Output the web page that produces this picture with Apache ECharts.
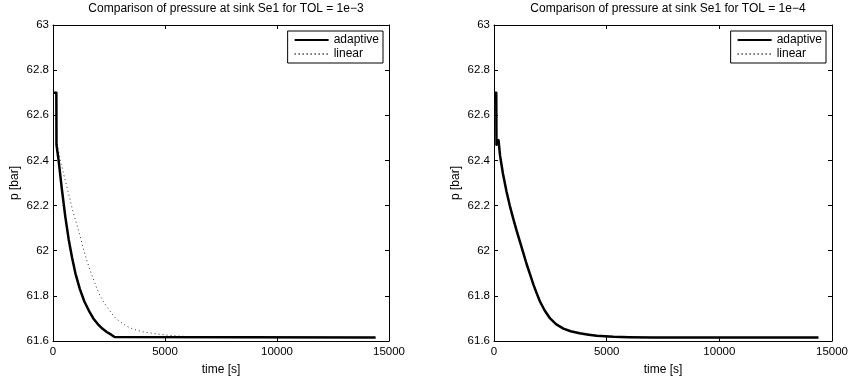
<!DOCTYPE html>
<html>
<head>
<meta charset="utf-8">
<script src="https://cdn.jsdelivr.net/npm/echarts@6/dist/echarts.min.js"></script>
<style>
  html, body { margin: 0; padding: 0; background: #fff; }
  #chart { width: 851px; height: 381px; }
</style>
</head>
<body>
<div id="chart"></div>
<script>
// TOL = 1e-3 (left)
const tAdaptive3 = [0, 150, 155, 250, 400, 550, 700, 850, 1000, 1200, 1400, 1600, 1800, 2000, 2200, 2400, 2600, 2750, 2800, 14400];
const pAdaptive3 = [62.70, 62.70, 62.47, 62.40, 62.27, 62.15, 62.05, 61.97, 61.90, 61.83, 61.775, 61.735, 61.70, 61.675, 61.655, 61.64, 61.628, 61.618, 61.615, 61.615];
const tLinear3 = [150, 300, 450, 600, 750, 900, 1050, 1200, 1350, 1500, 1650, 1800, 1950, 2100, 2250, 2400, 2600, 2800, 3000, 3300, 3600, 4000, 4500, 5000, 5600, 6300, 7200, 8000, 14400];
const pLinear3 = [62.49, 62.41, 62.35, 62.29, 62.23, 62.17, 62.12, 62.07, 62.01, 61.96, 61.915, 61.875, 61.835, 61.80, 61.775, 61.752, 61.725, 61.70, 61.685, 61.665, 61.652, 61.641, 61.633, 61.627, 61.622, 61.618, 61.616, 61.615, 61.615];

// TOL = 1e-4 (right)
const tAdaptive4 = [0, 100, 110, 200, 270, 400, 560, 700, 860, 1000, 1150, 1300, 1450, 1600, 1750, 1900, 2040, 2250, 2490, 2750, 3080, 3400, 3800, 4200, 4560, 5300, 6000, 7000, 8000, 14400];
const pAdaptive4 = [62.70, 62.70, 62.47, 62.49, 62.42, 62.34, 62.26, 62.20, 62.14, 62.09, 62.04, 61.99, 61.94, 61.895, 61.85, 61.81, 61.775, 61.735, 61.70, 61.675, 61.655, 61.643, 61.634, 61.628, 61.623, 61.619, 61.617, 61.616, 61.615, 61.615];
const tLinear4 = [150, 270, 400, 560, 700, 860, 1000, 1150, 1300, 1450, 1600, 1750, 1900, 2040, 2250, 2490, 2750, 3080, 3400, 3800, 4200, 4560, 5300, 6000, 7000, 8000, 14400];
const pLinear4 = [62.49, 62.42, 62.34, 62.26, 62.20, 62.14, 62.09, 62.04, 61.99, 61.94, 61.895, 61.85, 61.81, 61.775, 61.735, 61.70, 61.675, 61.655, 61.643, 61.634, 61.628, 61.623, 61.619, 61.617, 61.616, 61.615, 61.615];

const yMin = 61.6, yMax = 63, yStep = 0.2;
const xMin = 0, xMax = 15000, xStep = 5000;
const titles = ["Comparison of pressure at sink Se1 for TOL = 1e\u22123", "Comparison of pressure at sink Se1 for TOL = 1e\u22124"];
const legendNames = ["adaptive", "linear"];

const font = "Liberation Sans";
const zip = (t, p) => t.map((v, i) => [v, p[i]]);

const grids = [
  { left: 53, top: 25, width: 336, height: 321 },
  { left: 494, top: 25, width: 338, height: 321 }
];

const xAxes = [];
const yAxes = [];
grids.forEach((g, gi) => {
  ["bottom", "top"].forEach((pos, k) => {
    xAxes.push({
      type: "value", gridIndex: gi, position: pos,
      min: xMin, max: xMax, interval: xStep,
      name: k === 0 ? "time [s]" : "",
      nameLocation: "middle", nameGap: 23,
      nameTextStyle: { color: "#000", fontFamily: font, fontSize: 12 },
      axisLine: { show: true, onZero: false, lineStyle: { color: "#000", width: 1 } },
      axisTick: { show: true, inside: true, length: 4, lineStyle: { color: "#000" } },
      axisLabel: { show: k === 0, color: "#000", fontFamily: font, fontSize: 11.5, margin: 5, formatter: v => String(v) },
      splitLine: { show: false }
    });
  });
  ["left", "right"].forEach((pos, k) => {
    yAxes.push({
      type: "value", gridIndex: gi, position: pos,
      min: yMin, max: yMax, interval: yStep,
      name: k === 0 ? "p [bar]" : "",
      nameLocation: "middle", nameGap: 32, nameRotate: 90,
      nameTextStyle: { color: "#000", fontFamily: font, fontSize: 12 },
      axisLine: { show: true, onZero: false, lineStyle: { color: "#000", width: 1 } },
      axisTick: { show: true, inside: true, length: 4, lineStyle: { color: "#000" } },
      axisLabel: {
        show: k === 0, color: "#000", fontFamily: font, fontSize: 11.5, margin: 4,
        formatter: v => String(Math.round(v * 10) / 10)
      },
      splitLine: { show: false }
    });
  });
});

const mkSeries = (name, data, gi, dotted) => ({
  name, type: "line", data,
  xAxisIndex: gi * 2, yAxisIndex: gi * 2,
  symbol: "none", animation: false,
  lineStyle: dotted
    ? { color: "#333", width: 1, type: [1, 3] }
    : { color: "#000", width: 2.5, join: "round" },
  itemStyle: { color: "#000" },
  z: dotted ? 2 : 3
});

const option = {
  backgroundColor: "#fff",
  animation: false,
  title: titles.map((t, i) => ({
    text: t,
    left: grids[i].left + grids[i].width / 2,
    textAlign: "center",
    top: -2,
    textStyle: { color: "#000", fontFamily: font, fontSize: 12, fontWeight: "normal" }
  })),
  legend: grids.map((g, i) => ({
    data: legendNames,
    orient: "vertical",
    right: 851 - (g.left + g.width) + 6,
    top: 31,
    itemWidth: 34, itemHeight: 12, itemGap: 2,
    padding: [3, 4, 3, 6],
    borderColor: "#000", borderWidth: 1,
    backgroundColor: "#fff",
    itemStyle: { opacity: 0 },
    textStyle: { color: "#000", fontFamily: font, fontSize: 12 },
    selectedMode: false
  })),
  grid: grids,
  xAxis: xAxes,
  yAxis: yAxes,
  series: [
    mkSeries("adaptive", zip(tAdaptive3, pAdaptive3), 0, false),
    mkSeries("linear", zip(tLinear3, pLinear3), 0, true),
    mkSeries("adaptive", zip(tAdaptive4, pAdaptive4), 1, false),
    mkSeries("linear", zip(tLinear4, pLinear4), 1, true)
  ]
};

const myChart = echarts.init(document.getElementById("chart"));
myChart.setOption(option);
</script>
</body>
</html>
